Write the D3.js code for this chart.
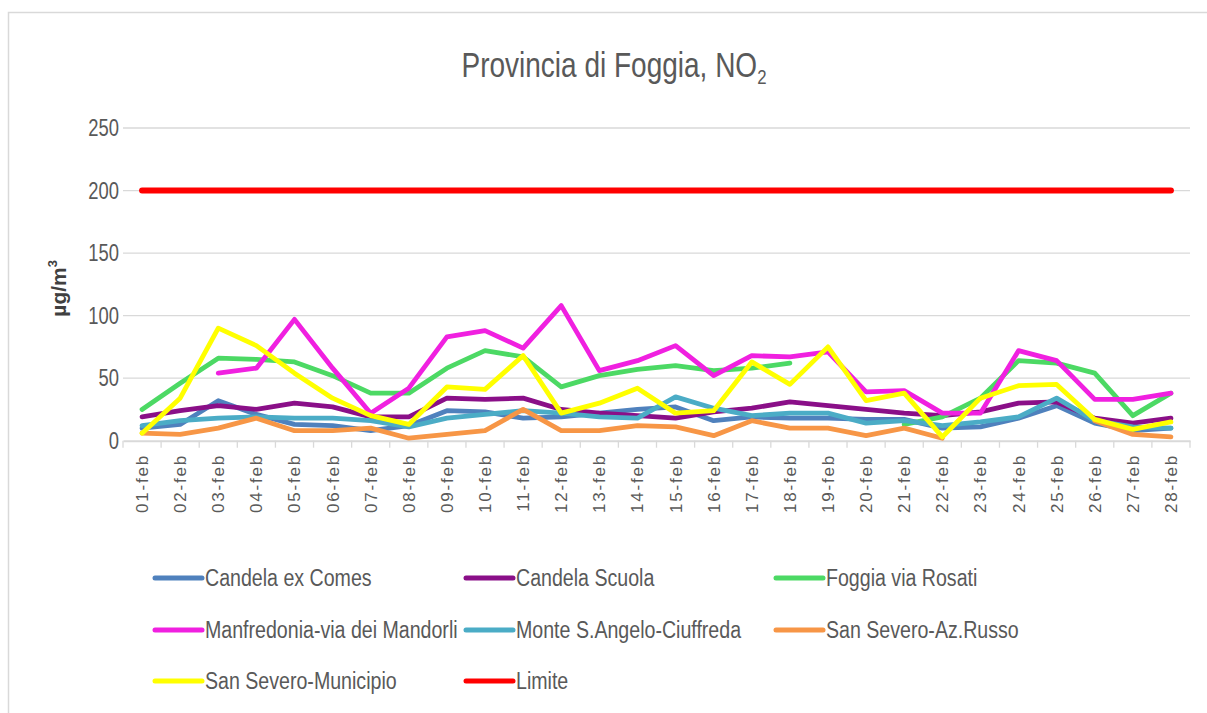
<!DOCTYPE html>
<html>
<head>
<meta charset="utf-8">
<script src="https://cdn.jsdelivr.net/npm/d3@7"></script>
<style>
  html, body { margin: 0; padding: 0; background: #fff; }
  svg { display: block; }
</style>
</head>
<body>
<svg id="chart" width="1207" height="713"></svg>
<script>
const categories = ["01-feb","02-feb","03-feb","04-feb","05-feb","06-feb","07-feb","08-feb","09-feb","10-feb","11-feb","12-feb","13-feb","14-feb","15-feb","16-feb","17-feb","18-feb","19-feb","20-feb","21-feb","22-feb","23-feb","24-feb","25-feb","26-feb","27-feb","28-feb"];
const yTicks = [0, 50, 100, 150, 200, 250];

const candelaExComes = [10,13,32,21,13,12,8,12,24,23,18,19,22,25,27,16,19,18,18,17,17,10,11,18,28,14,8,10];
const candelaScuola  = [19,24,28,25,30,27,19,19,34,33,34,25,22,20,18,23,26,31,28,25,22,20,23,30,31,18,14,18];
const foggiaRosati   = [25,46,66,65,63,52,38,38,58,72,67,43,52,57,60,56,58,62,null,null,13,19,34,64,62,54,20,38];
const manfredonia    = [null,null,54,58,97,58,22,42,83,88,74,108,56,64,76,52,68,67,71,39,40,22,22,72,64,33,33,38];
const monteSAngelo   = [12,16,18,19,18,18,16,11,18,21,24,22,19,18,35,26,20,22,22,14,16,12,15,19,34,16,11,10];
const sanSeveroRusso = [6,5,10,18,8,8,10,2,5,8,25,8,8,12,11,4,16,10,10,4,10,2,null,null,null,16,5,3];
const sanSeveroMunic = [6,34,90,76,54,34,20,13,43,41,68,22,30,42,22,24,63,45,75,32,38,3,34,44,45,17,9,15];
const limite         = categories.map(() => 200);

const seriesNames  = ["Candela ex Comes","Candela Scuola","Foggia via Rosati","Manfredonia-via dei Mandorli","Monte S.Angelo-Ciuffreda","San Severo-Az.Russo","San Severo-Municipio","Limite"];
const seriesColors = ["#4F81BD","#8A0F88","#4CD964","#F020E0","#4BACC6","#F79646","#FFFF00","#FF0000"];
const seriesValues = [candelaExComes, candelaScuola, foggiaRosati, manfredonia, monteSAngelo, sanSeveroRusso, sanSeveroMunic, limite];

const svg = d3.select("#chart");
const gray = "#595959";
const narrow = "'Liberation Sans', Arial, sans-serif";

// chart border
svg.append("rect").attr("x", 8.5).attr("y", 12.5).attr("width", 1300).attr("height", 1000)
  .attr("fill", "none").attr("stroke", "#d9d9d9").attr("stroke-width", 1.5);

const x = d3.scaleBand().domain(categories).range([123, 1190]).padding(0);
const y = d3.scaleLinear().domain([0, 250]).range([440.7, 128]);

// gridlines
svg.append("g").selectAll("line").data(yTicks.filter(t => t > 0)).join("line")
  .attr("x1", 123).attr("x2", 1190)
  .attr("y1", d => y(d)).attr("y2", d => y(d))
  .attr("stroke", "#d9d9d9").attr("stroke-width", 1.3);

// x axis
const xAxis = svg.append("g").attr("transform", `translate(0,${y(0)})`)
  .call(d3.axisBottom(x).tickSize(0).tickFormat(""));
xAxis.select(".domain").attr("stroke", "#d9d9d9").attr("stroke-width", 2);
svg.append("g").selectAll("line").data(categories.concat(["__end"])).join("line")
  .attr("x1", (d, i) => 123 + i * x.bandwidth()).attr("x2", (d, i) => 123 + i * x.bandwidth())
  .attr("y1", y(0)).attr("y2", y(0) + 7)
  .attr("stroke", "#d9d9d9").attr("stroke-width", 1.3);

svg.append("g").selectAll("text").data(categories).join("text")
  .attr("transform", d => `translate(${x(d) + x.bandwidth() / 2 + 6},454) rotate(-90)`)
  .attr("text-anchor", "end")
  .attr("font-family", narrow).attr("font-size", 17).attr("letter-spacing", 1.8)
  .attr("fill", gray).text(d => d);

// y tick labels (condensed look)
svg.append("g").selectAll("text").data(yTicks).join("text")
  .attr("transform", d => `translate(119,${y(d) + 8}) scale(0.8,1)`)
  .attr("text-anchor", "end")
  .attr("font-family", narrow).attr("font-size", 23)
  .attr("fill", gray).text(d => d);

// y axis title
const yt = svg.append("text")
  .attr("transform", `translate(66,${y(125) + 4}) rotate(-90)`)
  .attr("text-anchor", "middle")
  .attr("font-family", narrow).attr("font-size", 21).attr("font-weight", "bold")
  .attr("fill", "#404040");
yt.append("tspan").text("µg/m");
yt.append("tspan").attr("font-size", 13).attr("dy", -9).text("3");

// title
const title = svg.append("text")
  .attr("transform", "translate(614,77) scale(0.8,1)")
  .attr("text-anchor", "middle")
  .attr("font-family", narrow).attr("font-size", 35)
  .attr("fill", gray);
title.append("tspan").text("Provincia di Foggia, NO");
title.append("tspan").attr("font-size", 21).attr("dy", 7).text("2");

// series lines
const line = d3.line()
  .defined(d => d != null)
  .x((d, i) => x(categories[i]) + x.bandwidth() / 2)
  .y(d => y(d));

svg.append("g").selectAll("path").data(seriesValues).join("path")
  .attr("d", d => line(d))
  .attr("fill", "none")
  .attr("stroke", (d, i) => seriesColors[i])
  .attr("stroke-width", (d, i) => i === 7 ? 6 : 4.8)
  .attr("stroke-linejoin", "round")
  .attr("stroke-linecap", "round");

// legend
const colX = [155, 466, 776];
const rowY = [578, 630, 681];
const leg = svg.append("g").selectAll("g").data(seriesNames).join("g")
  .attr("transform", (d, i) => `translate(${colX[i % 3]},${rowY[Math.floor(i / 3)]})`);
leg.append("line").attr("x1", 0).attr("x2", 47).attr("y1", 0).attr("y2", 0)
  .attr("stroke", (d, i) => seriesColors[i]).attr("stroke-width", 5)
  .attr("stroke-linecap", "round");
leg.append("text")
  .attr("transform", "translate(50,8) scale(0.8,1)")
  .attr("font-family", narrow).attr("font-size", 24.5)
  .attr("fill", gray).text(d => d);
</script>
</body>
</html>
